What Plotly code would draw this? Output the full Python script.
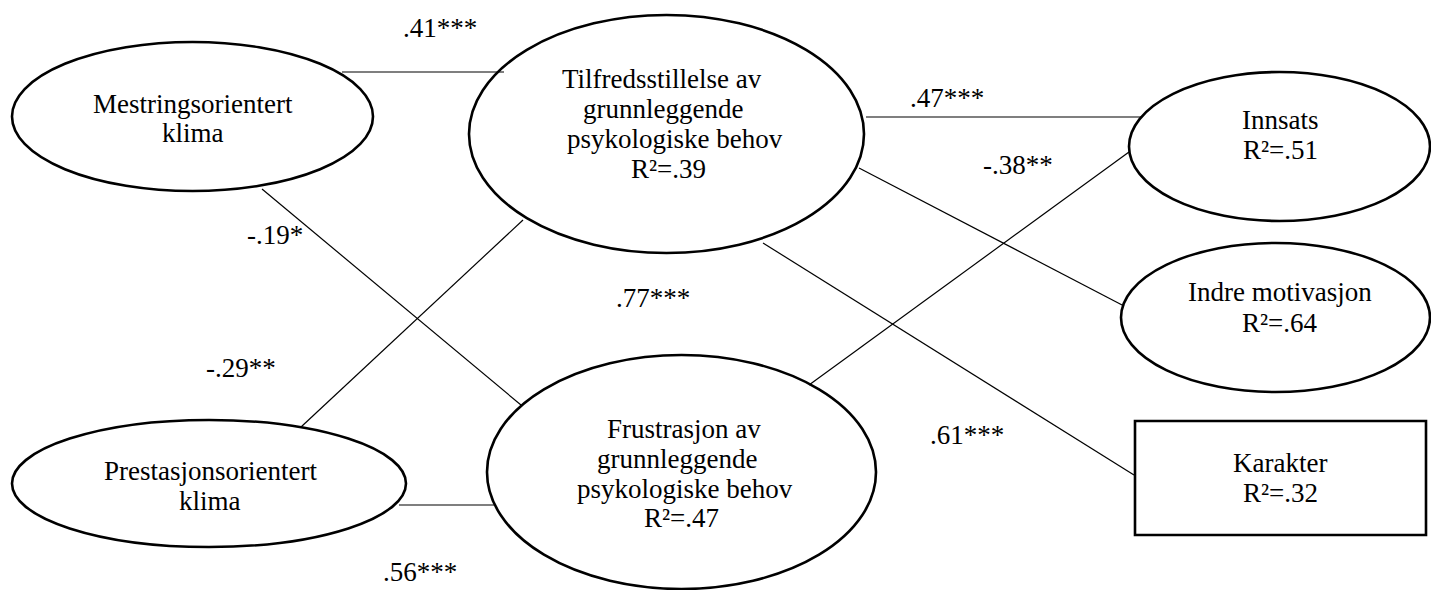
import plotly.graph_objects as go

# ---------------- data ----------------
node_names = ["Mestringsorientert klima", "Prestasjonsorientert klima",
              "Tilfredsstillelse av grunnleggende psykologiske behov",
              "Frustrasjon av grunnleggende psykologiske behov",
              "Innsats", "Indre motivasjon", "Karakter"]
node_lines = [["Mestringsorientert", "klima"],
              ["Prestasjonsorientert", "klima"],
              ["Tilfredsstillelse av", "grunnleggende", "psykologiske behov"],
              ["Frustrasjon av", "grunnleggende", "psykologiske behov"],
              ["Innsats"], ["Indre motivasjon"], ["Karakter"]]
r2_values = [None, None, ".39", ".47", ".51", ".64", ".32"]
path_coefficients = [".41***", "-.19*", "-.29**", ".56***", ".47***", "-.38**", ".77***", ".61***"]

# ---------------- layout geometry (pixels, y downward) ----------------
node_shape = ["ellipse", "ellipse", "ellipse", "ellipse", "ellipse", "ellipse", "rect"]
node_box = [  # x0, y0, x1, y1
    (12, 42, 373, 191),
    (12, 420, 406, 547),
    (469, 15, 864, 253),
    (487, 355, 876, 589),
    (1129, 72, 1430, 221),
    (1121, 243, 1430, 392),
    (1135, 421, 1426, 535),
]
node_text_x = [[193, 193], [210, 210], [662, 663, 675, 668], [684, 677, 685, 681],
               [1280, 1280], [1280, 1280], [1280, 1280]]
node_text_y = [[104, 133], [471, 501], [79, 109, 139, 169], [429, 459, 489, 518],
               [120, 150], [292, 323], [463, 493]]

edges = [  # x0, y0, x1, y1
    (342, 72, 504, 72),
    (262, 189, 521, 405),
    (301, 427, 523, 220),
    (399, 505, 494, 505),
    (866, 117, 1142, 117),
    (809, 385, 1129, 152),
    (859, 168, 1124, 306),
    (763, 243, 1134, 475),
]
coef_pos = [(440, 28), (275, 235), (241, 368), (420, 572),
            (947, 98), (1018, 165), (653, 298), (967, 435)]

FONT = dict(family="Liberation Serif, Times New Roman, serif", size=27, color="black")

fig = go.Figure()
shapes = []
for (x0, y0, x1, y1) in edges:
    shapes.append(dict(type="line", x0=x0, y0=y0, x1=x1, y1=y1, xref="x", yref="y",
                       line=dict(color="black", width=1.2)))
for shp, (x0, y0, x1, y1) in zip(node_shape, node_box):
    shapes.append(dict(type="circle" if shp == "ellipse" else "rect",
                       x0=x0, y0=y0, x1=x1, y1=y1, xref="x", yref="y",
                       line=dict(color="black", width=2.6), fillcolor="rgba(0,0,0,0)"))

annotations = []
for lines, r2, txs, tys in zip(node_lines, r2_values, node_text_x, node_text_y):
    texts = list(lines)
    if r2 is not None:
        texts.append("R\u00b2=" + r2)
    for t, tx, ty in zip(texts, txs, tys):
        annotations.append(dict(x=tx, y=ty, text=t, showarrow=False, font=FONT,
                                xanchor="center", yanchor="middle", xref="x", yref="y"))
for c, (cx, cy) in zip(path_coefficients, coef_pos):
    annotations.append(dict(x=cx, y=cy, text=c, showarrow=False, font=FONT,
                            xanchor="center", yanchor="middle", xref="x", yref="y"))

# invisible trace to anchor the axes
fig.add_trace(go.Scatter(x=[0, 1431], y=[0, 590], mode="markers",
                         marker=dict(opacity=0), hoverinfo="skip", showlegend=False))

fig.update_layout(
    width=1431, height=590,
    margin=dict(l=0, r=0, t=0, b=0),
    paper_bgcolor="white", plot_bgcolor="white",
    shapes=shapes, annotations=annotations,
    xaxis=dict(range=[0, 1431], visible=False, fixedrange=True),
    yaxis=dict(range=[590, 0], visible=False, fixedrange=True),
    showlegend=False,
)
fig.write_html("out.html", config={"displayModeBar": False},
               post_script="document.body.style.margin='0';document.body.style.overflow='hidden';")
